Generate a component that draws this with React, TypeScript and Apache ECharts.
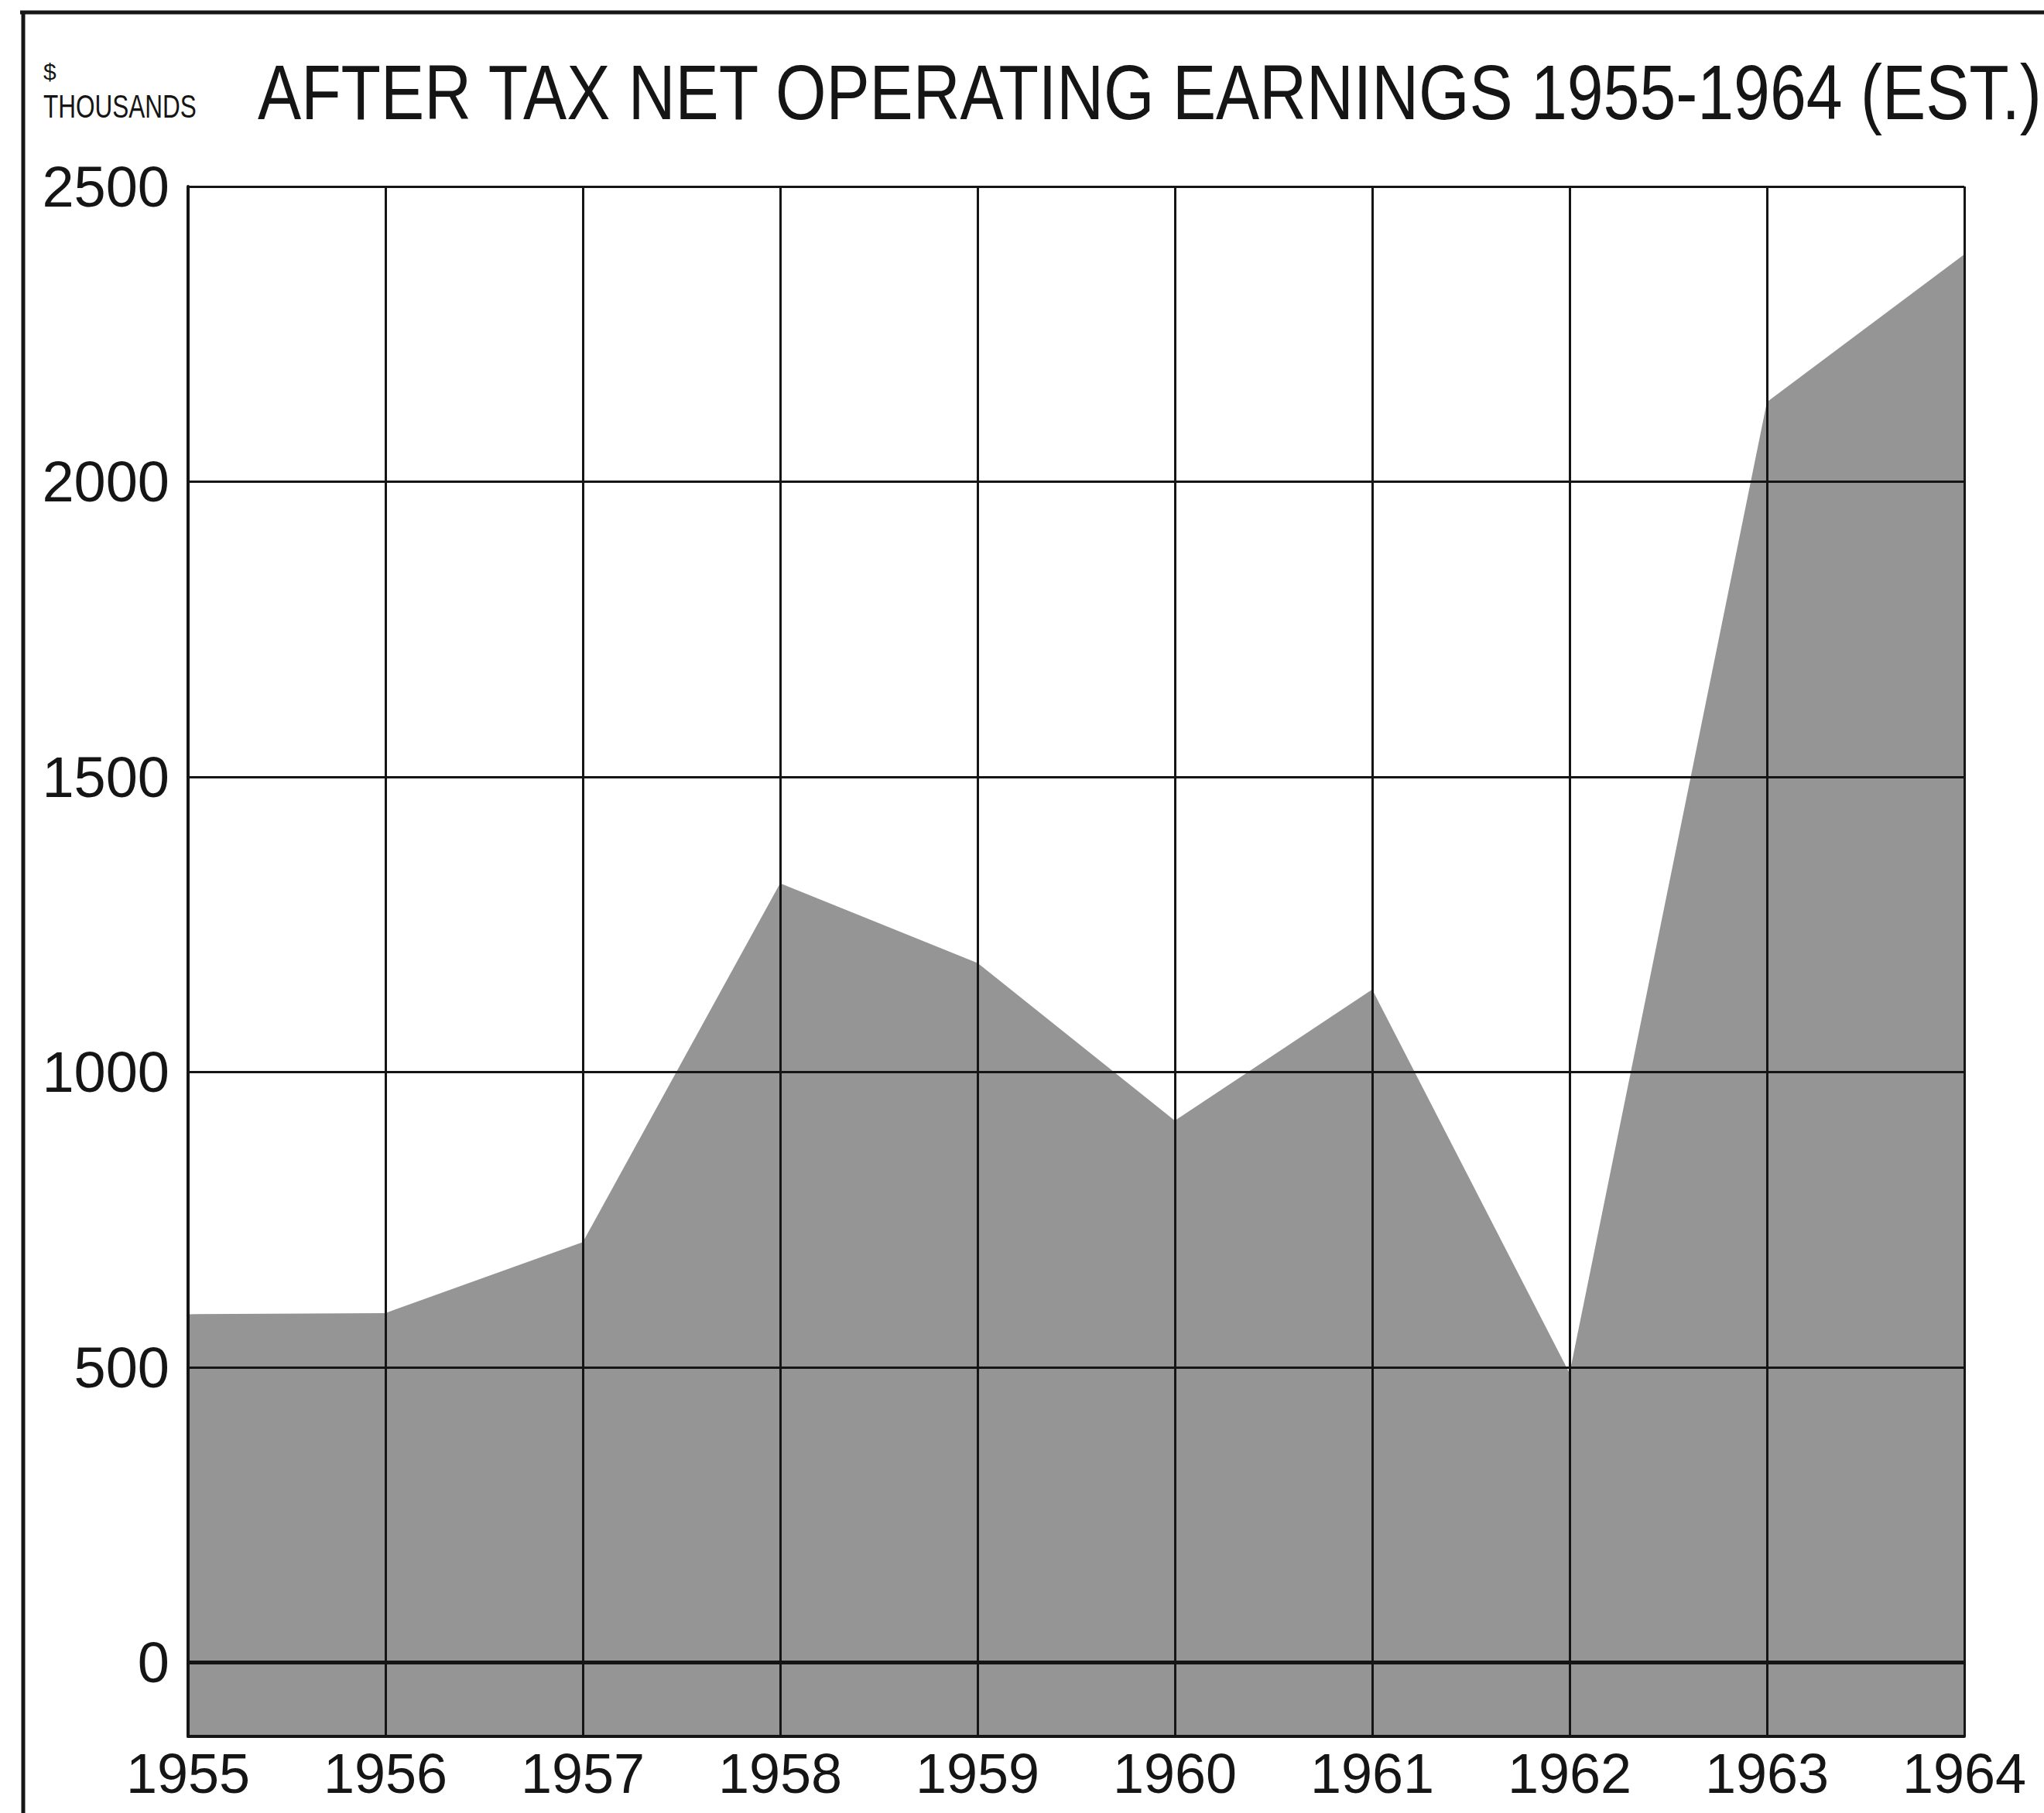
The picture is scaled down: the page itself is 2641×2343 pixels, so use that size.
import React, { useEffect, useRef } from "react";
import * as echarts from "echarts";

const years = ["1955", "1956", "1957", "1958", "1959", "1960", "1961", "1962", "1963", "1964"];
const earnings = [590, 592, 712, 1320, 1185, 918, 1140, 490, 2135, 2385];
const yLabelValues = [0, 500, 1000, 1500, 2000, 2500];
const titleText = "AFTER TAX NET OPERATING EARNINGS 1955-1964 (EST.)";
const unitTop = "$";
const unitBottom = "THOUSANDS";

const W = 2641;
const H = 2343;

export default function App() {
  const ref = useRef<HTMLDivElement>(null);
  useEffect(() => {
    if (!ref.current) return;
    const chart = echarts.init(ref.current, null, { renderer: "svg" });
    const ink = "#151515";
    chart.setOption({
      animation: false,
      backgroundColor: "#ffffff",
      grid: { left: 243, right: 103, top: 241, bottom: 99, containLabel: false },
      xAxis: {
        type: "category",
        data: years,
        boundaryGap: false,
        z: 5,
        axisLine: { show: true, onZero: false, lineStyle: { color: ink, width: 4 } },
        axisTick: { show: false },
        axisLabel: {
          margin: 12,
          fontSize: 72,
          fontFamily: "'Liberation Sans', sans-serif",
          color: ink,
        },
        splitLine: { show: true, interval: 0, lineStyle: { color: ink, width: 3 } },
      },
      yAxis: {
        type: "value",
        min: -125,
        max: 2500,
        interval: 125,
        z: 5,
        axisLine: { show: true, lineStyle: { color: ink, width: 4 } },
        axisTick: { show: false },
        axisLabel: {
          margin: 24,
          fontSize: 74,
          fontFamily: "'Liberation Sans', sans-serif",
          color: ink,
          formatter: (v: number) => (yLabelValues.indexOf(v) >= 0 ? String(v) : ""),
        },
        splitLine: {
          show: true,
          lineStyle: { color: ["rgba(0,0,0,0)", ink, "rgba(0,0,0,0)", "rgba(0,0,0,0)"], width: 3 },
        },
      },
      series: [
        {
          type: "line",
          data: earnings,
          showSymbol: false,
          symbol: "none",
          z: 2,
          lineStyle: { width: 0, color: "#959595" },
          areaStyle: { color: "#959595", opacity: 1, origin: "start" },
          markLine: {
            silent: true,
            symbol: "none",
            label: { show: false },
            lineStyle: { color: ink, width: 5, type: "solid" },
            data: [{ yAxis: 0 }],
          },
        },
      ],
      graphic: [
        {
          type: "line",
          shape: { x1: 26, y1: 16, x2: W, y2: 16 },
          style: { stroke: ink, lineWidth: 5 },
        },
        {
          type: "line",
          shape: { x1: 30, y1: 14, x2: 30, y2: H },
          style: { stroke: ink, lineWidth: 5 },
        },
        {
          type: "text",
          x: 333,
          y: 119,
          scaleX: 0.842,
          style: {
            text: titleText,
            fontSize: 100,
            fontFamily: "'Liberation Sans', sans-serif",
            fill: ink,
            align: "left",
            verticalAlign: "middle",
          },
        },
        {
          type: "text",
          x: 56,
          y: 92,
          style: {
            text: unitTop,
            fontSize: 30,
            fontFamily: "'Liberation Sans', sans-serif",
            fill: ink,
            align: "left",
            verticalAlign: "middle",
          },
        },
        {
          type: "text",
          x: 56,
          y: 137,
          scaleX: 0.75,
          style: {
            text: unitBottom,
            fontSize: 42,
            fontFamily: "'Liberation Sans', sans-serif",
            fill: ink,
            align: "left",
            verticalAlign: "middle",
          },
        },
      ],
    });
    return () => chart.dispose();
  }, []);
  return (
    <div
      ref={ref}
      style={{ position: "absolute", left: 0, top: 0, width: W, height: H }}
    />
  );
}
